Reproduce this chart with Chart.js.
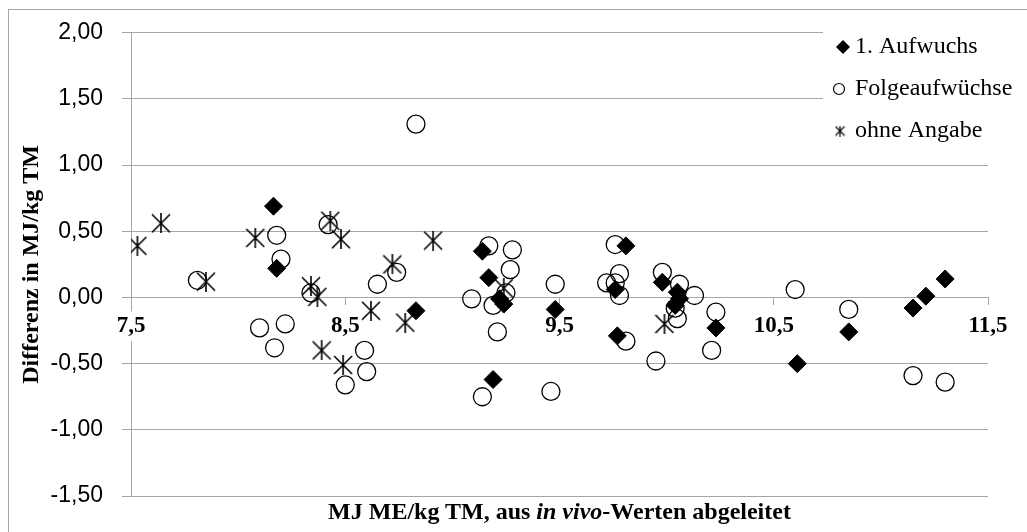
<!DOCTYPE html>
<html>
<head>
<meta charset="utf-8">
<script src="https://cdn.jsdelivr.net/npm/chart.js"></script>
<style>
  body { margin: 0; background: #fff; }
  #wrap { position: relative; width: 1027px; height: 532px; overflow: hidden; }
  #frame { position: absolute; left: 8px; top: 9px; width: 1040px; height: 540px; border: 1px solid #a6a6a6; pointer-events: none; }
  #xtitle { position: absolute; left: 131px; width: 857px; top: 498px; line-height: 28px; text-align: center;
            font: bold 24px "Liberation Serif", serif; color: #000; }
</style>
</head>
<body>
<div id="wrap">
  <canvas id="myChart"></canvas>
  <div id="frame"></div>
  <div id="xtitle">MJ ME/kg TM, aus <i>in vivo</i>-Werten abgeleitet</div>
</div>
<script>
// 1. Aufwuchs
var aufwuchsX = [8.165, 8.18, 8.83, 9.14, 9.17, 9.22, 9.24, 9.19, 9.48, 9.81, 9.76, 9.77, 9.98, 10.05, 10.06, 10.04, 10.23, 10.61, 10.85, 11.15, 11.21, 11.30];
var aufwuchsY = [0.69, 0.22, -0.10, 0.35, 0.15, -0.01, -0.05, -0.62, -0.09, 0.39, 0.06, -0.29, 0.115, 0.04, -0.01, -0.06, -0.23, -0.50, -0.26, -0.08, 0.01, 0.14];
// Folgeaufwüchse
var folgeX = [7.81, 8.18, 8.20, 8.42, 8.34, 8.10, 8.22, 8.17, 8.50, 8.65, 8.74, 8.59, 8.60, 8.83, 9.17, 9.28, 9.27, 9.09, 9.19, 9.25, 9.21, 9.14, 9.48, 9.46,
              9.76, 9.78, 9.72, 9.76, 9.78, 9.81, 9.95, 9.98, 10.06, 10.13, 10.04, 10.05, 10.23, 10.21, 10.60, 10.85, 11.15, 11.30];
var folgeY = [0.13, 0.47, 0.29, 0.55, 0.035, -0.23, -0.20, -0.38, -0.66, 0.10, 0.19, -0.40, -0.56, 1.31, 0.39, 0.36, 0.21, -0.01, -0.06, 0.035, -0.26, -0.75, 0.10, -0.71,
              0.40, 0.18, 0.11, 0.11, 0.015, -0.33, -0.48, 0.19, 0.10, 0.015, -0.08, -0.16, -0.11, -0.40, 0.06, -0.09, -0.59, -0.64];
// ohne Angabe
var ohneX = [7.53, 7.64, 7.85, 8.08, 8.43, 8.48, 8.34, 8.37, 8.39, 8.49, 8.91, 8.72, 8.62, 8.78, 9.24, 9.99];
var ohneY = [0.39, 0.56, 0.12, 0.45, 0.58, 0.44, 0.085, 0.005, -0.40, -0.51, 0.43, 0.25, -0.10, -0.19, 0.07, -0.20];

var seriesNames = ['1. Aufwuchs', 'Folgeaufwüchse', 'ohne Angabe'];
var yTicks = { min: -1.5, max: 2, step: 0.5 };
var xTicks = { min: 7.5, max: 11.5, step: 1 };

var gridColor = '#a6a6a6';

function toPoints(xs, ys) {
  return xs.map(function (x, i) { return { x: x, y: ys[i] }; });
}

// Excel-artiger Stern: X mit senkrechtem Strich
function makeStar(size, lw) {
  var c = document.createElement('canvas');
  c.width = size; c.height = size;
  var g = c.getContext('2d');
  g.strokeStyle = '#000';
  g.lineWidth = lw;
  g.beginPath();
  g.moveTo(1, 1); g.lineTo(size - 1, size - 1);
  g.moveTo(size - 1, 1); g.lineTo(1, size - 1);
  g.moveTo(size / 2, 0); g.lineTo(size / 2, size);
  g.stroke();
  return c;
}
var starBig = makeStar(20, 1.6);
var starSmall = makeStar(11, 1.2);

var innerLegend = {
  id: 'innerLegend',
  afterDraw: function (chart) {
    var ctx = chart.ctx;
    var right = chart.chartArea.right;
    ctx.save();
    ctx.fillStyle = '#fff';
    ctx.fillRect(right - 165, 18, 200, 132);
    ctx.fillStyle = '#000';
    ctx.strokeStyle = '#000';
    ctx.font = '24px "Liberation Serif"';
    ctx.textBaseline = 'middle';
    ctx.textAlign = 'left';
    var mx = right - 147, tx = right - 133;
    var rows = [47, 89, 131];
    // Raute
    ctx.beginPath();
    ctx.moveTo(mx + 2 - 7, rows[0]); ctx.lineTo(mx + 2, rows[0] - 7);
    ctx.lineTo(mx + 2 + 7, rows[0]); ctx.lineTo(mx + 2, rows[0] + 7);
    ctx.closePath(); ctx.fill();
    // Kreis
    ctx.lineWidth = 1.2;
    ctx.beginPath(); ctx.arc(mx - 2, rows[1], 5.5, 0, Math.PI * 2); ctx.stroke();
    // Stern
    ctx.drawImage(starSmall, mx - 1 - 5.5, rows[2] - 5.5);
    seriesNames.forEach(function (n, i) { ctx.fillText(n, tx, rows[i]); });
    ctx.restore();
  }
};

new Chart(document.getElementById('myChart'), {
  type: 'scatter',
  data: {
    datasets: [
      { label: seriesNames[0], data: toPoints(aufwuchsX, aufwuchsY), pointStyle: 'rectRot', pointRadius: 9,
        backgroundColor: '#000', borderColor: '#000', borderWidth: 1 },
      { label: seriesNames[1], data: toPoints(folgeX, folgeY), pointStyle: 'circle', pointRadius: 9,
        backgroundColor: 'rgba(0,0,0,0)', borderColor: '#000', borderWidth: 1.3 },
      { label: seriesNames[2], data: toPoints(ohneX, ohneY), pointStyle: starBig, pointRadius: 10,
        backgroundColor: '#000', borderColor: '#000' }
    ]
  },
  options: {
    responsive: true,
    maintainAspectRatio: false,
    animation: false,
    events: [],
    layout: { padding: { left: 0, top: 27, right: 39, bottom: 36 } },
    plugins: { legend: { display: false }, tooltip: { enabled: false } },
    scales: {
      x: {
        type: 'linear',
        position: { y: 0 },
        min: xTicks.min, max: xTicks.max,
        ticks: {
          stepSize: xTicks.step,
          callback: function (v) { return v.toFixed(1).replace('.', ','); },
          font: { family: 'Liberation Serif', size: 23, weight: 'bold' },
          color: '#000', padding: 8, maxRotation: 0,
          showLabelBackdrop: true, backdropColor: '#fff', backdropPadding: 1
        },
        grid: { drawOnChartArea: false, drawTicks: true, tickLength: 7, color: gridColor },
        border: { color: gridColor }
      },
      y: {
        min: yTicks.min, max: yTicks.max,
        ticks: {
          stepSize: yTicks.step,
          callback: function (v) { return v.toFixed(2).replace('.', ','); },
          font: { family: 'Liberation Sans', size: 23 },
          color: '#000', padding: 19
        },
        grid: { color: gridColor, tickLength: 9, z: -1 },
        border: { color: gridColor, z: -1 },
        title: {
          display: true, text: 'Differenz in MJ/kg TM', color: '#000',
          font: { family: 'Liberation Serif', size: 24, weight: 'bold' },
          padding: { top: 17, bottom: 0 }
        },
        afterFit: function (s) { s.width = 131; }
      }
    }
  },
  plugins: [innerLegend]
});
</script>
</body>
</html>
